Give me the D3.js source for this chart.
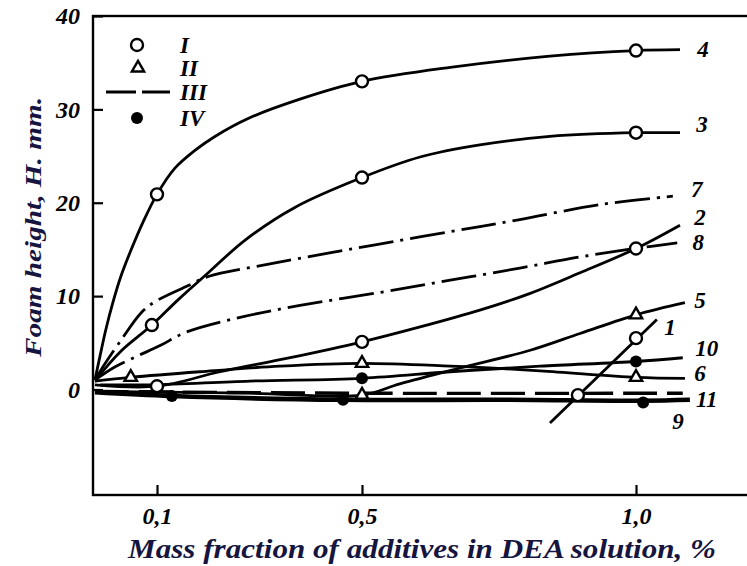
<!DOCTYPE html>
<html lang="en">
<head>
<meta charset="UTF-8">
<title>Foam height vs mass fraction of additives</title>
<script src="https://cdn.jsdelivr.net/npm/d3@7/dist/d3.min.js"></script>
<style>
  body { margin: 0; background: #fff; }
  svg text {
    font-family: "Liberation Serif", "Times New Roman", serif;
    font-style: italic;
    font-weight: bold;
    fill: #000;
  }
  .curve { fill: none; stroke: #000; }
  .title { fill: #15153f; }
</style>
</head>
<body>
<div id="chart"></div>
<script>
// tick labels
const xTicks = [0.1, 0.5, 1.0];
const yTicks = [0, 10, 20, 30, 40];
const legendNames = ["I", "II", "III", "IV"];

// curves: [mass fraction %, foam height mm]
const curve1 = [[0.843, -3.6], [1.038, 7.5]];
const curve2 = [[0.003, 0.5], [0.1, 0.35], [0.223, 1.9], [0.36, 3.4], [0.5, 5.1], [0.606, 6.7],
  [0.715, 8.5], [0.807, 10.3], [0.898, 12.5], [1.0, 15.1], [1.08, 17.6]];
const curve3 = [[0.005, 1.1], [0.042, 4.0], [0.092, 6.9], [0.141, 9.6], [0.2, 12.5], [0.272, 16.0],
  [0.369, 19.5], [0.5, 22.7], [0.606, 24.9], [0.715, 26.2], [0.843, 27.1], [1.0, 27.5], [1.08, 27.5]];
const curve4 = [[0.003, 1.0], [0.011, 3.6], [0.020, 6.4], [0.031, 9.3], [0.044, 12.2], [0.058, 14.7],
  [0.078, 17.9], [0.1, 20.9], [0.135, 23.7], [0.174, 25.6], [0.213, 27.1], [0.281, 29.1], [0.379, 31.1],
  [0.5, 33.0], [0.661, 34.5], [0.843, 35.7], [1.0, 36.3], [1.08, 36.4]];
const curve5 = [[0.003, -0.2], [0.281, -0.4], [0.5, -0.6], [0.569, 0.6], [0.679, 2.3], [0.807, 4.2],
  [0.898, 6.0], [1.0, 8.0], [1.089, 9.3]];
const curve6 = [[0.003, 0.9], [0.059, 1.3], [0.184, 1.9], [0.34, 2.5], [0.5, 2.8], [0.661, 2.5],
  [0.825, 2.0], [1.0, 1.3], [1.089, 1.2]];
const curve7 = [[0.003, 1.0], [0.0125, 2.1], [0.044, 5.3], [0.075, 8.2], [0.097, 9.4], [0.16, 11.1],
  [0.2, 12.1], [0.305, 13.3], [0.434, 14.6], [0.524, 15.5], [0.661, 16.9], [0.788, 18.2],
  [0.934, 19.8], [1.067, 20.7]];
const curve8 = [[0.003, 1.0], [0.034, 2.4], [0.067, 3.5], [0.106, 4.7], [0.155, 6.1], [0.252, 7.6],
  [0.379, 9.0], [0.533, 10.4], [0.661, 11.7], [0.788, 13.0], [0.898, 14.2], [0.998, 15.1], [1.075, 15.7]];
const curve9 = [[0.003, -0.3], [0.129, -0.7], [0.463, -1.1], [0.752, -1.1], [1.013, -1.2], [1.098, -1.1]];
const curve10 = [[0.011, 0.5], [0.092, 0.5], [0.281, 0.9], [0.5, 1.2], [0.661, 1.9], [0.825, 2.5],
  [1.0, 3.0], [1.085, 3.4]];
const curve11 = [[0.003, -0.2], [0.496, -0.4], [1.085, -0.4]];

// experimental points
const pointsI = [[0.1, 20.9], [0.5, 33.0], [1.0, 36.3], [0.092, 6.9], [0.5, 22.7], [1.0, 27.5],
  [0.1, 0.35], [0.5, 5.1], [1.0, 15.1], [0.894, -0.6], [1.0, 5.5]];
const pointsII = [[0.059, 1.3], [0.5, 2.8], [1.0, 1.3], [0.5, -0.6], [1.0, 8.0]];
const pointsIV = [[0.5, 1.2], [1.0, 3.0], [0.129, -0.7], [0.463, -1.1], [1.013, -1.4]];

const curves = [
  { id: "1", data: curve1, kind: "solid" },
  { id: "2", data: curve2, kind: "solid" },
  { id: "3", data: curve3, kind: "solid" },
  { id: "4", data: curve4, kind: "solid" },
  { id: "5", data: curve5, kind: "solid" },
  { id: "6", data: curve6, kind: "solid" },
  { id: "7", data: curve7, kind: "dashdot" },
  { id: "8", data: curve8, kind: "dashdot" },
  { id: "9", data: curve9, kind: "thick" },
  { id: "10", data: curve10, kind: "solid" },
  { id: "11", data: curve11, kind: "dash" }
];

// label offset from the last point of each curve, px
const labelOffset = {
  "1": [13, 7], "2": [20, -8], "3": [22, -9], "4": [23, -1], "5": [15, -3], "6": [15, -5],
  "7": [24, -7], "8": [21, -1], "9": [-12, 21], "10": [24, -10], "11": [24, 6]
};

const width = 747, height = 566;
const svg = d3.select("#chart").append("svg")
  .attr("width", width)
  .attr("height", height);

// the printed axis is not evenly spaced, so map it piece by piece
const x = d3.scaleLinear()
  .domain([0, 0.1, 0.5, 1.0, 1.2])
  .range([93, 157, 362, 636, 746]);
const y = d3.scaleLinear()
  .domain([-11.3, 40])
  .range([495, 16]);

// frame
svg.append("rect")
  .attr("x", x(0)).attr("y", y(40))
  .attr("width", 700).attr("height", y(-11.3) - y(40))
  .attr("fill", "none").attr("stroke", "#000").attr("stroke-width", 2.4);

// axes, ticks inside the frame
const xAxis = svg.append("g")
  .attr("transform", `translate(0, ${y(-11.3)})`)
  .call(d3.axisBottom(x).tickValues(xTicks).tickSize(-10)
    .tickFormat(d => d.toFixed(1).replace(".", ",")));
xAxis.select(".domain").remove();
xAxis.selectAll("line").attr("stroke", "#000").attr("stroke-width", 2.2);
xAxis.selectAll("text")
  .attr("y", 29).attr("dy", 0)
  .style("font-size", "24px")
  .style("font-family", null);

const yAxis = svg.append("g")
  .attr("transform", `translate(${x(0)}, 0)`)
  .call(d3.axisLeft(y).tickValues(yTicks).tickSize(-10));
yAxis.select(".domain").remove();
yAxis.selectAll("line").attr("stroke", "#000").attr("stroke-width", 2.2);
yAxis.selectAll("text")
  .attr("x", -13)
  .style("font-size", "24px")
  .style("font-family", null);

// curves
const line = d3.line()
  .x(d => x(d[0]))
  .y(d => y(d[1]))
  .curve(d3.curveCatmullRom.alpha(0.5));

const dashFor = { solid: null, thick: null, dashdot: "35,7,3,7", dash: "34,10" };
const widthFor = { solid: 2.8, thick: 4.6, dashdot: 2.8, dash: 3.4 };

svg.append("g").selectAll("path")
  .data(curves)
  .join("path")
  .attr("class", "curve")
  .attr("d", d => line(d.data))
  .attr("stroke-width", d => widthFor[d.kind])
  .attr("stroke-dasharray", d => dashFor[d.kind]);

// curve numbers
svg.append("g").selectAll("text")
  .data(curves)
  .join("text")
  .attr("x", d => x(d.data[d.data.length - 1][0]) + labelOffset[d.id][0])
  .attr("y", d => y(d.data[d.data.length - 1][1]) + labelOffset[d.id][1])
  .attr("dy", "0.35em")
  .attr("text-anchor", "middle")
  .style("font-size", "23px")
  .text(d => d.id);

// markers
const tri = d3.symbol(d3.symbolTriangle, 66);
svg.append("g").selectAll("circle")
  .data(pointsI)
  .join("circle")
  .attr("cx", d => x(d[0])).attr("cy", d => y(d[1])).attr("r", 6)
  .attr("fill", "#fff").attr("stroke", "#000").attr("stroke-width", 2.4);
svg.append("g").selectAll("path")
  .data(pointsII)
  .join("path")
  .attr("d", tri)
  .attr("transform", d => `translate(${x(d[0])}, ${y(d[1])})`)
  .attr("fill", "#fff").attr("stroke", "#000").attr("stroke-width", 2.4);
svg.append("g").selectAll("circle")
  .data(pointsIV)
  .join("circle")
  .attr("cx", d => x(d[0])).attr("cy", d => y(d[1])).attr("r", 6)
  .attr("fill", "#000");

// legend
const legend = svg.append("g");
const legendY = [45, 68, 92, 118];
legend.append("circle").attr("cx", 137).attr("cy", legendY[0]).attr("r", 6)
  .attr("fill", "#fff").attr("stroke", "#000").attr("stroke-width", 2.4);
legend.append("path").attr("d", tri).attr("transform", `translate(138, ${legendY[1]})`)
  .attr("fill", "#fff").attr("stroke", "#000").attr("stroke-width", 2.4);
legend.append("line").attr("x1", 106).attr("x2", 170).attr("y1", legendY[2]).attr("y2", legendY[2])
  .attr("stroke", "#000").attr("stroke-width", 3.2).attr("stroke-dasharray", "30,6");
legend.append("circle").attr("cx", 137).attr("cy", legendY[3]).attr("r", 6).attr("fill", "#000");
legend.selectAll("text")
  .data(legendNames)
  .join("text")
  .attr("x", 180)
  .attr("y", (d, i) => legendY[i])
  .attr("dy", "0.35em")
  .style("font-size", "23px")
  .text(d => d);

// axis titles
svg.append("text")
  .attr("class", "title")
  .attr("x", 422).attr("y", 558)
  .attr("text-anchor", "middle")
  .attr("textLength", 588).attr("lengthAdjust", "spacingAndGlyphs")
  .style("font-size", "27px")
  .text("Mass fraction of additives in DEA solution, %");

svg.append("text")
  .attr("class", "title")
  .attr("transform", "translate(41, 227) rotate(-90)")
  .attr("text-anchor", "middle")
  .attr("textLength", 260).attr("lengthAdjust", "spacingAndGlyphs")
  .style("font-size", "23px")
  .text("Foam height,  H. mm.");
</script>
</body>
</html>
